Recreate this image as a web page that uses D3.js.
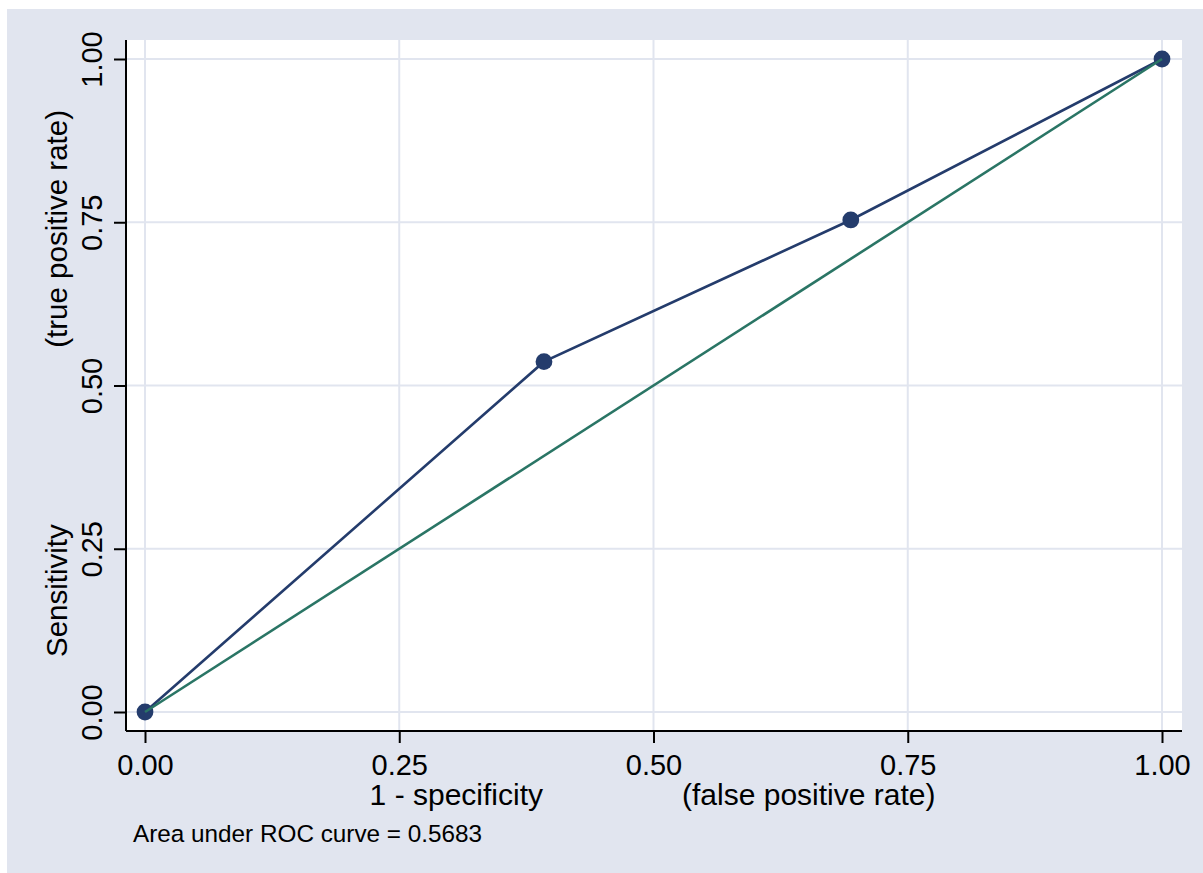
<!DOCTYPE html>
<html><head><meta charset="utf-8">
<script src="https://cdn.jsdelivr.net/npm/d3@7"></script>
<style>html,body{margin:0;padding:0;background:#fff;}svg{display:block;}</style>
</head><body>
<script>
// Data
const fpr = [0, 0.3923, 0.694, 1];          // 1 - specificity
const tpr = [0, 0.5365, 0.7535, 1];          // sensitivity
const refLine = [0, 1];
const tickValues = [0, 0.25, 0.5, 0.75, 1];
const tickLabels = ["0.00", "0.25", "0.50", "0.75", "1.00"];
const xTitleParts = ["1 - specificity", "(false positive rate)"];
const yTitleParts = ["Sensitivity", "(true positive rate)"];
const note = "Area under ROC curve = 0.5683";

const W = 1203, H = 873;
const font = "'Liberation Sans', Arial, Helvetica, sans-serif";
const svg = d3.select("body").append("svg").attr("width", W).attr("height", H);

svg.append("rect").attr("x", 7).attr("y", 9).attr("width", W - 7).attr("height", H - 9).attr("fill", "#e1e5ef");

const plot = {left: 126, right: 1182, top: 40, bottom: 731};
svg.append("rect").attr("x", plot.left).attr("y", plot.top)
  .attr("width", plot.right - plot.left).attr("height", plot.bottom - plot.top).attr("fill", "#fff");

const x = d3.scaleLinear().domain([0, 1]).range([145, 1162]);
const y = d3.scaleLinear().domain([0, 1]).range([712, 59]);

const grid = svg.append("g");
tickValues.forEach(v => {
  grid.append("line").attr("x1", x(v)).attr("x2", x(v)).attr("y1", plot.top).attr("y2", plot.bottom)
    .attr("stroke", "#e1e5ef").attr("stroke-width", 2);
  grid.append("line").attr("x1", plot.left).attr("x2", plot.right).attr("y1", y(v)).attr("y2", y(v))
    .attr("stroke", "#e1e5ef").attr("stroke-width", 2);
});

// axes
const xAxis = d3.axisBottom(x).tickValues(tickValues).tickFormat((d, i) => tickLabels[i]).tickSizeOuter(0).tickSize(12);
const gx = svg.append("g").attr("transform", `translate(0,${plot.bottom})`).call(xAxis);
gx.select(".domain").attr("d", `M${plot.left},0H${plot.right}`).attr("stroke", "#000").attr("stroke-width", 2);
gx.selectAll(".tick line").attr("stroke", "#000").attr("stroke-width", 2);
gx.selectAll(".tick text").attr("font-family", font).attr("font-size", 29).attr("fill", "#000")
  .attr("dy", null).attr("y", 44);

const yAxis = d3.axisLeft(y).tickValues(tickValues).tickFormat((d, i) => tickLabels[i]).tickSizeOuter(0).tickSize(12);
const gy = svg.append("g").attr("transform", `translate(${plot.left},0)`).call(yAxis);
gy.select(".domain").attr("d", `M0,${plot.top}V${plot.bottom}`).attr("stroke", "#000").attr("stroke-width", 2);
gy.selectAll(".tick line").attr("stroke", "#000").attr("stroke-width", 2);
gy.selectAll(".tick text").attr("font-family", font).attr("font-size", 29).attr("fill", "#000")
  .attr("x", null).attr("dy", null).attr("text-anchor", "middle")
  .attr("transform", "translate(-24,0) rotate(-90)");

const line = d3.line().x(d => x(d[0])).y(d => y(d[1]));
const refPts = refLine.map(v => [v, v]);

// ROC curve
const pts = fpr.map((f, i) => [f, tpr[i]]);
svg.append("path").datum(pts).attr("d", line)
  .attr("fill", "none").attr("stroke", "#243c6c").attr("stroke-width", 2.6);
svg.selectAll("circle.m").data(pts).enter().append("circle")
  .attr("cx", d => x(d[0])).attr("cy", d => y(d[1])).attr("r", 8.4).attr("fill", "#243c6c");
// reference line drawn on top
svg.append("path").datum(refPts).attr("d", line)
  .attr("fill", "none").attr("stroke", "#2a7565").attr("stroke-width", 2.6);

// axis titles
svg.append("text").attr("x", 543).attr("y", 805).attr("text-anchor", "end")
  .attr("font-family", font).attr("font-size", 30).text(xTitleParts[0]);
svg.append("text").attr("x", 682).attr("y", 805).attr("text-anchor", "start")
  .attr("font-family", font).attr("font-size", 30).text(xTitleParts[1]);

svg.append("text").attr("transform", `translate(67,657) rotate(-90)`).attr("text-anchor", "start")
  .attr("font-family", font).attr("font-size", 29.5).text(yTitleParts[0]);
svg.append("text").attr("transform", `translate(67,110) rotate(-90)`).attr("text-anchor", "end")
  .attr("font-family", font).attr("font-size", 29.5).text(yTitleParts[1]);

svg.append("text").attr("x", 133).attr("y", 842).attr("font-family", font).attr("font-size", 24.3).text(note);
</script>
</body></html>
